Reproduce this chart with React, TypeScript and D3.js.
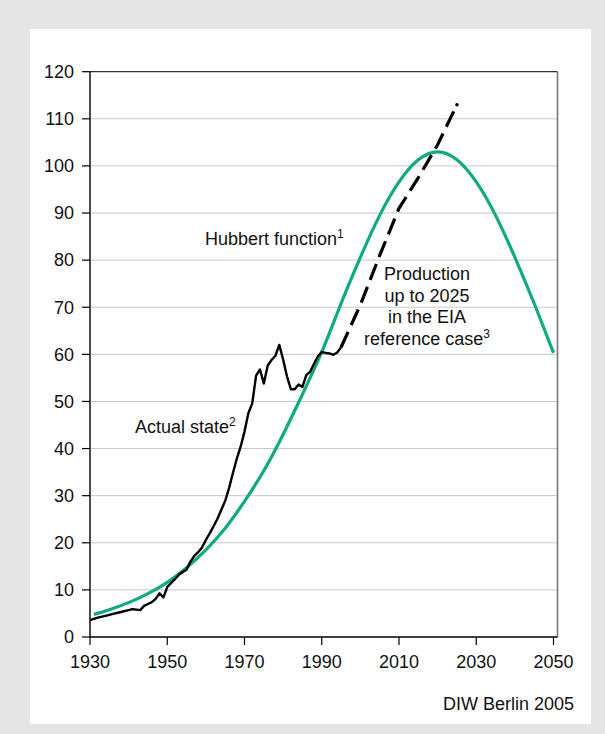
import { scaleLinear, line, curveNatural, curveLinear } from "d3";

const width = 605;
const height = 734;

// Hubbert function
const hubbertYears = [1931, 1935, 1940, 1945, 1950, 1955, 1960, 1965, 1970, 1975, 1980, 1985, 1990, 1995, 2000, 2005, 2010, 2015, 2020, 2025, 2030, 2035, 2040, 2045, 2050];
const hubbertValues = [4.8, 5.8, 7.3, 9.2, 11.6, 14.7, 18.5, 23.1, 28.8, 35.3, 43.0, 51.5, 60.5, 70.8, 80.6, 89.5, 96.6, 101.3, 103.0, 101.3, 96.6, 89.5, 80.6, 70.8, 60.3];

// Actual production
const actualYears = [1930, 1932, 1934, 1936, 1938, 1940, 1941, 1942, 1943, 1944, 1945, 1946, 1947, 1948, 1949, 1950, 1951, 1952, 1953, 1954, 1955, 1956, 1957, 1958, 1959, 1960, 1961, 1962, 1963, 1964, 1965, 1966, 1967, 1968, 1969, 1970, 1971, 1972, 1973, 1974, 1975, 1976, 1977, 1978, 1979, 1980, 1981, 1982, 1983, 1984, 1985, 1986, 1987, 1988, 1989, 1990, 1991, 1992, 1993, 1994, 1995];
const actualValues = [3.6, 4.1, 4.5, 4.9, 5.3, 5.7, 5.9, 5.8, 5.7, 6.6, 7.0, 7.4, 8.1, 9.3, 8.4, 10.6, 11.5, 12.3, 13.2, 13.8, 14.3, 16.0, 17.2, 18.0, 19.0, 20.6, 22.0, 23.5, 25.1, 27.0, 28.9, 31.6, 34.8, 37.8, 40.4, 43.6, 47.5, 49.6, 55.5, 56.8, 53.8, 57.6, 58.8, 59.7, 62.0, 58.9, 55.3, 52.6, 52.6, 53.6, 53.1, 55.6, 56.3, 58.0, 59.6, 60.5, 60.3, 60.2, 59.9, 60.4, 61.5];

// EIA reference case projection
const eiaYears = [1995, 2000, 2005, 2010, 2015, 2020, 2025];
const eiaValues = [61.5, 70.5, 81, 91, 97.5, 104.5, 113];

const xTicks = [1930, 1950, 1970, 1990, 2010, 2030, 2050];
const yTicks = [0, 10, 20, 30, 40, 50, 60, 70, 80, 90, 100, 110, 120];

const font = "'Liberation Sans', Arial, Helvetica, sans-serif";
const green = "#0faa7f";

const x = scaleLinear().domain([1930, 2050]).range([90, 553.5]);
const y = scaleLinear().domain([0, 120]).range([637, 71.7]);

type Pt = [number, number];

const zip = (xs: number[], vs: number[]): Pt[] => xs.map((d, i) => [d, vs[i]]);

const lineGen = line<Pt>()
  .x((d) => x(d[0]))
  .y((d) => y(d[1]));

export default function App() {
  const left = x(1930);
  const right = x(2050) + 4;
  const top = y(120);
  const bottom = y(0);
  const hubbertPath = lineGen.curve(curveNatural)(zip(hubbertYears, hubbertValues)) || "";
  const actualPath = lineGen.curve(curveLinear)(zip(actualYears, actualValues)) || "";
  const eiaPath = lineGen.curve(curveLinear)(zip(eiaYears, eiaValues)) || "";
  const lastYear = eiaYears[eiaYears.length - 1];
  const lastValue = eiaValues[eiaValues.length - 1];

  return (
    <div style={{ position: "fixed", left: 0, top: 0, width, height, background: "#e5e5e5" }}>
      <svg width={width} height={height} style={{ display: "block" }} fontFamily={font}>
        <rect x={30} y={29} width={561} height={695} fill="white" />
        {/* gridlines */}
        {yTicks.slice(1, -1).map((t) => (
          <line key={"g" + t} x1={left} x2={right} y1={y(t)} y2={y(t)} stroke="#c8c8c8" strokeWidth={1} />
        ))}
        {/* frame */}
        <line x1={left} x2={right} y1={top} y2={top} stroke="#333" strokeWidth={1.2} />
        <line x1={right} x2={right} y1={top} y2={bottom} stroke="#777" strokeWidth={1.6} />
        {/* y axis */}
        <line x1={left} x2={left} y1={top} y2={bottom} stroke="#000" strokeWidth={1.4} />
        {yTicks.map((t) => (
          <g key={"y" + t}>
            <line x1={left - 8} x2={left} y1={y(t)} y2={y(t)} stroke="#000" strokeWidth={1.2} />
            <text x={74} y={y(t) + 6.3} textAnchor="end" fontSize={18} fill="#111">
              {t}
            </text>
          </g>
        ))}
        {/* x axis */}
        <line x1={left} x2={right} y1={bottom} y2={bottom} stroke="#000" strokeWidth={1.4} />
        {xTicks.map((t) => (
          <g key={"x" + t}>
            <line x1={x(t)} x2={x(t)} y1={bottom} y2={bottom + 8} stroke="#000" strokeWidth={1.2} />
            <text x={x(t)} y={668} textAnchor="middle" fontSize={18} fill="#111">
              {t}
            </text>
          </g>
        ))}
        {/* series */}
        <path d={hubbertPath} fill="none" stroke={green} strokeWidth={3.2} />
        <path d={actualPath} fill="none" stroke="#000" strokeWidth={2.4} strokeLinejoin="round" />
        <path d={eiaPath} fill="none" stroke="#000" strokeWidth={3.2} strokeDasharray="17 7.5" />
        <circle cx={x(lastYear)} cy={y(lastValue)} r={1.8} fill="#000" />
        {/* labels */}
        <text x={205} y={245} fontSize={18} fill="#111">
          Hubbert function
          <tspan fontSize={12} dy={-7}>1</tspan>
        </text>
        <text x={135} y={432.7} fontSize={18} fill="#111">
          Actual state
          <tspan fontSize={12} dy={-7}>2</tspan>
        </text>
        <text x={427} y={280} fontSize={18} fill="#111" textAnchor="middle">
          Production
        </text>
        <text x={427} y={301.5} fontSize={18} fill="#111" textAnchor="middle">
          up to 2025
        </text>
        <text x={427} y={323} fontSize={18} fill="#111" textAnchor="middle">
          in the EIA
        </text>
        <text x={427} y={344.5} fontSize={18} fill="#111" textAnchor="middle">
          reference case
          <tspan fontSize={12} dy={-7}>3</tspan>
        </text>
        <text x={574} y={710} fontSize={18} fill="#111" textAnchor="end">
          DIW Berlin 2005
        </text>
      </svg>
    </div>
  );
}
